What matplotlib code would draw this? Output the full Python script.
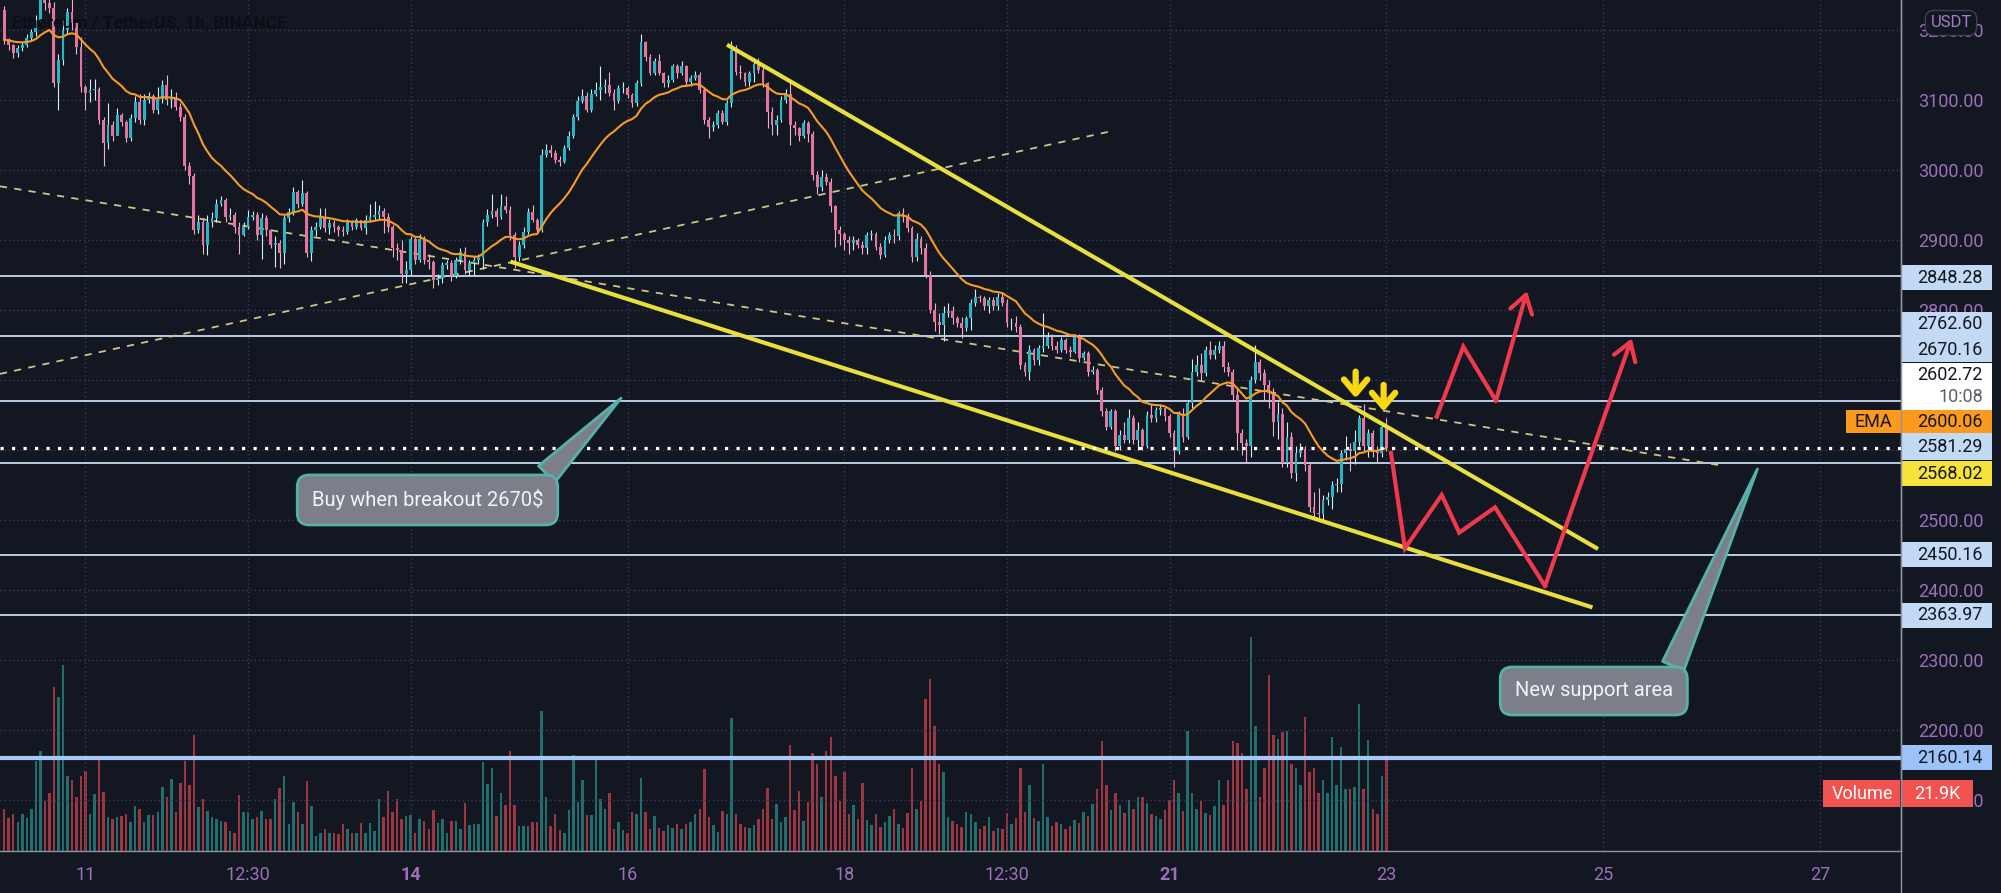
import matplotlib
matplotlib.use('Agg')
import matplotlib.pyplot as plt
import matplotlib.transforms as mtransforms
from matplotlib.patches import Rectangle
import numpy as np
import pandas as pd

plt.rcParams['font.family'] = ['Roboto', 'DejaVu Sans']

# ETH/USDT 1h candles, first candle = day 10, 06:00
first_open = 3229
closes = [
    3186, 3179, 3167, 3174, 3179, 3188, 3197, 3214, 3243, 3238,
    3232, 3124, 3157, 3200, 3226, 3210, 3176, 3119, 3110, 3114,
    3116, 3071, 3038, 3064, 3048, 3078, 3069, 3045, 3074, 3097,
    3071, 3100, 3105, 3086, 3102, 3121, 3100, 3103, 3090, 3076,
    3005, 2991, 2914, 2926, 2893, 2926, 2931, 2952, 2957, 2933,
    2935, 2919, 2907, 2919, 2933, 2936, 2907, 2931, 2914, 2893,
    2895, 2881, 2931, 2940, 2969, 2952, 2967, 2881, 2914, 2919,
    2933, 2917, 2924, 2919, 2914, 2912, 2926, 2919, 2928, 2917,
    2929, 2933, 2936, 2941, 2933, 2919, 2888, 2886, 2852, 2857,
    2902, 2871, 2902, 2871, 2869, 2843, 2845, 2864, 2867, 2848,
    2871, 2883, 2857, 2867, 2871, 2874, 2926, 2936, 2941, 2933,
    2948, 2943, 2907, 2876, 2893, 2912, 2940, 2929, 2914, 3021,
    3029, 3024, 3014, 3012, 3031, 3048, 3076, 3098, 3105, 3086,
    3109, 3114, 3119, 3121, 3110, 3098, 3117, 3117, 3107, 3095,
    3124, 3183, 3162, 3138, 3155, 3138, 3124, 3129, 3148, 3138,
    3148, 3126, 3131, 3136, 3114, 3071, 3062, 3064, 3081, 3069,
    3095, 3171, 3140, 3138, 3126, 3138, 3152, 3143, 3124, 3083,
    3064, 3071, 3100, 3109, 3064, 3060, 3048, 3067, 3052, 2993,
    2976, 2990, 2983, 2948, 2914, 2909, 2900, 2895, 2900, 2893,
    2888, 2907, 2909, 2890, 2879, 2900, 2907, 2905, 2938, 2933,
    2917, 2876, 2902, 2888, 2850, 2800, 2783, 2779, 2795, 2798,
    2788, 2781, 2774, 2788, 2810, 2819, 2817, 2805, 2814, 2805,
    2819, 2810, 2781, 2781, 2776, 2721, 2712, 2743, 2729, 2745,
    2748, 2762, 2748, 2743, 2757, 2743, 2740, 2762, 2731, 2738,
    2712, 2714, 2686, 2655, 2633, 2655, 2605, 2621, 2614, 2645,
    2614, 2629, 2605, 2650, 2645, 2657, 2660, 2648, 2624, 2598,
    2652, 2619, 2667, 2712, 2721, 2710, 2743, 2736, 2743, 2748,
    2719, 2712, 2679, 2624, 2610, 2605, 2700, 2726, 2710, 2693,
    2681, 2640, 2652, 2581, 2619, 2567, 2595, 2602, 2579, 2519,
    2510, 2509, 2529, 2533, 2550, 2552, 2595, 2602, 2598, 2612,
    2645, 2605, 2624, 2597, 2595, 2633, 2602.72,
]
highs = [
    3235, 3188, 3180, 3178, 3183, 3195, 3202, 3222, 3255, 3260,
    3250, 3240, 3165, 3215, 3232, 3245, 3205, 3190, 3122, 3130,
    3130, 3118, 3075, 3095, 3070, 3088, 3082, 3072, 3080, 3105,
    3108, 3108, 3112, 3108, 3118, 3128, 3135, 3115, 3112, 3095,
    3080, 3012, 2995, 2935, 2932, 2935, 2940, 2958, 2963, 2960,
    2945, 2940, 2925, 2925, 2943, 2942, 2940, 2938, 2936, 2915,
    2905, 2900, 2935, 2945, 2975, 2972, 2985, 2970, 2920, 2925,
    2945, 2945, 2930, 2928, 2922, 2920, 2930, 2929, 2932, 2929,
    2935, 2952, 2955, 2950, 2945, 2938, 2922, 2895, 2900, 2870,
    2905, 2905, 2908, 2905, 2880, 2872, 2852, 2868, 2872, 2872,
    2875, 2888, 2890, 2872, 2877, 2880, 2930, 2944, 2965, 2945,
    2965, 2963, 2948, 2912, 2898, 2918, 2945, 2950, 2932, 3030,
    3037, 3035, 3028, 3020, 3036, 3055, 3080, 3105, 3115, 3112,
    3115, 3125, 3148, 3130, 3140, 3115, 3122, 3125, 3120, 3110,
    3128, 3195, 3185, 3165, 3160, 3165, 3140, 3135, 3152, 3152,
    3156, 3150, 3136, 3142, 3140, 3118, 3075, 3070, 3085, 3085,
    3100, 3185, 3178, 3150, 3140, 3142, 3160, 3160, 3148, 3125,
    3090, 3078, 3105, 3115, 3125, 3070, 3062, 3072, 3070, 3055,
    2998, 3000, 2995, 2988, 2950, 2920, 2912, 2905, 2905, 2903,
    2898, 2912, 2914, 2912, 2895, 2905, 2912, 2915, 2942, 2945,
    2938, 2920, 2910, 2905, 2895, 2855, 2810, 2795, 2805, 2810,
    2805, 2792, 2790, 2792, 2815, 2830, 2822, 2820, 2818, 2818,
    2824, 2825, 2815, 2788, 2792, 2780, 2725, 2750, 2745, 2750,
    2795, 2768, 2765, 2755, 2762, 2760, 2748, 2766, 2765, 2742,
    2742, 2720, 2717, 2690, 2660, 2658, 2658, 2628, 2640, 2658,
    2650, 2640, 2632, 2655, 2665, 2662, 2665, 2662, 2652, 2628,
    2655, 2660, 2672, 2730, 2735, 2738, 2748, 2755, 2750, 2756,
    2756, 2725, 2715, 2690, 2630, 2615, 2706, 2750, 2730, 2715,
    2700, 2688, 2668, 2660, 2640, 2625, 2605, 2610, 2605, 2583,
    2540, 2545, 2535, 2540, 2555, 2560, 2600, 2620, 2610, 2628,
    2650, 2665, 2630, 2628, 2605, 2638, 2645,
]
lows = [
    3180, 3172, 3160, 3162, 3170, 3176, 3185, 3192, 3212, 3228,
    3225, 3118, 3085, 3150, 3195, 3200, 3165, 3112, 3085, 3097,
    3100, 3065, 3005, 3030, 3042, 3053, 3063, 3040, 3042, 3068,
    3065, 3064, 3096, 3082, 3080, 3095, 3093, 3088, 3086, 3070,
    3000, 2980, 2908, 2910, 2880, 2878, 2918, 2925, 2948, 2925,
    2928, 2910, 2880, 2905, 2915, 2928, 2900, 2873, 2905, 2888,
    2862, 2860, 2866, 2925, 2935, 2945, 2948, 2875, 2870, 2905,
    2915, 2912, 2908, 2912, 2905, 2905, 2908, 2914, 2915, 2914,
    2908, 2925, 2928, 2930, 2910, 2912, 2875, 2872, 2838, 2838,
    2850, 2865, 2868, 2865, 2858, 2832, 2836, 2838, 2858, 2842,
    2845, 2865, 2852, 2850, 2850, 2866, 2858, 2920, 2932, 2920,
    2930, 2938, 2900, 2860, 2870, 2888, 2908, 2925, 2910, 2912,
    3018, 3018, 3010, 3005, 3010, 3028, 3045, 3072, 3095, 3083,
    3083, 3105, 3100, 3110, 3105, 3085, 3095, 3110, 3103, 3090,
    3092, 3120, 3155, 3135, 3135, 3135, 3118, 3118, 3125, 3132,
    3135, 3120, 3120, 3128, 3110, 3065, 3045, 3055, 3060, 3065,
    3064, 3090, 3136, 3130, 3120, 3120, 3125, 3138, 3118, 3060,
    3050, 3050, 3068, 3095, 3035, 3050, 3042, 3045, 3040, 2985,
    2965, 2970, 2978, 2940, 2890, 2893, 2885, 2880, 2885, 2888,
    2880, 2880, 2900, 2885, 2873, 2875, 2895, 2895, 2900, 2925,
    2912, 2868, 2870, 2880, 2845, 2795, 2770, 2765, 2755, 2790,
    2780, 2775, 2760, 2770, 2772, 2805, 2812, 2800, 2795, 2800,
    2800, 2805, 2775, 2772, 2768, 2715, 2705, 2700, 2722, 2722,
    2740, 2745, 2743, 2738, 2740, 2738, 2733, 2738, 2725, 2728,
    2705, 2708, 2680, 2648, 2628, 2630, 2598, 2600, 2610, 2610,
    2608, 2600, 2600, 2603, 2640, 2640, 2650, 2642, 2618, 2576,
    2594, 2612, 2615, 2660, 2705, 2700, 2705, 2730, 2730, 2738,
    2712, 2705, 2670, 2600, 2593, 2582, 2590, 2695, 2700, 2670,
    2660, 2620, 2615, 2575, 2575, 2560, 2555, 2590, 2570, 2512,
    2502, 2500, 2500, 2522, 2515, 2540, 2540, 2585, 2570, 2580,
    2605, 2598, 2590, 2590, 2582, 2590, 2598,
]
volumes_k = [
    10, 8, 9, 7, 9, 8, 10, 21.7, 24, 12,
    14, 39.5, 37, 44.7, 18, 17, 13, 18, 19.3, 9,
    13.7, 22.2, 14.1, 8.1, 7.7, 8.1, 8.5, 8.9, 6.9, 10.9,
    10.1, 6.9, 8.6, 8.6, 9.3, 15.3, 12.9, 17.3, 9.3, 16.5,
    21.8, 16, 28, 10.5, 12.5, 9.7, 8.1, 7.7, 7.3, 6.9,
    4.8, 4.4, 13.5, 9.3, 9.3, 7.7, 8.1, 9.7, 7.7, 7.7,
    12.5, 15.2, 18.1, 6.5, 11.7, 9.3, 6.5, 16.9, 10.9, 3.6,
    4.4, 5.2, 4.4, 4.4, 4.0, 6.5, 5.2, 4.4, 4.4, 6.7,
    4.4, 6.7, 4.8, 12.5, 8.1, 14.5, 9.3, 12.5, 7.7, 8.5,
    8.6, 4.4, 7.7, 7.3, 5.2, 9.9, 6.7, 7.7, 4.4, 7.3,
    7.3, 5.2, 11.5, 6.2, 6.5, 6.5, 21.4, 16.1, 20, 8.5,
    14, 11, 24, 11, 6, 6, 6, 7, 7, 33.7,
    13, 6, 9, 5, 4.4, 9.9, 23.1, 11.7, 17, 8.6,
    8.6, 22, 12.5, 10, 13.9, 5.2, 6.9, 5, 4.4, 9.3,
    9, 17.7, 9.3, 5.2, 8.5, 5.5, 4.8, 6.2, 5.6, 6.5,
    5.2, 6.5, 7.0, 9.0, 10, 19.7, 8.3, 6.2, 4.6, 9.6,
    8.8, 32, 8.9, 6.4, 5.9, 5.5, 6.3, 7.7, 10, 15.1,
    7.6, 11.4, 6.9, 8.2, 25.6, 9.8, 14.4, 7.3, 11.7, 23.7,
    21, 13, 24, 27.4, 18, 12, 19, 9, 11, 7.6,
    16.5, 7.5, 6.3, 8.8, 5.9, 6.9, 8.5, 10, 6.4, 5.6,
    9.1, 20, 10, 12, 36.6, 41.5, 30, 21, 19, 8.1,
    7.3, 6.4, 5.9, 9.5, 8.8, 7.0, 5.4, 6.0, 8.3, 4.9,
    5.6, 5.2, 9.2, 6.6, 8.0, 20, 9.3, 16, 8.0, 7.2,
    21, 8.3, 6.0, 7.1, 6.5, 5.2, 6.1, 7.4, 6.7, 9.4,
    8.5, 11.4, 15, 26.6, 16, 9.9, 14, 11.2, 9.1, 12.4,
    10.1, 13.0, 13.0, 11.5, 9.0, 8.5, 7.6, 9.8, 12.4, 17,
    14, 9.6, 28.8, 14, 10, 12, 9.2, 8.7, 10.8, 17,
    11, 17, 26.6, 26, 23.7, 15, 51.5, 30, 13, 20,
    42.3, 28, 27, 28.6, 29, 21, 20, 16, 32.4, 19,
    20, 14, 17, 14, 27.5, 16, 25, 15, 15, 15.5,
    35.4, 15, 26.8, 10, 9, 18, 21.9,
]

# horizontal levels drawn on the chart
levels = [2848.28, 2762.60, 2670.16, 2581.29, 2450.16, 2363.97]
support = 2160.14
last_price = 2602.72
ema_last = 2600.06
channel_price = 2568.02
last_volume = '21.9K'

# drawings (day, price)
upper_trend = ([16.918, 24.953], [3179, 2458.6])
lower_trend = ([14.92, 24.902], [2869.1, 2375.1])
dash_down = ([10.211, 26.102], [2976.7, 2577.6])
dash_up = ([10.211, 20.453], [2708.7, 3055.1])
path_up = ([23.465, 23.710, 24.012, 24.298], [2647.6, 2747.6, 2670.4, 2827.1])
path_down = ([23.043, 23.172, 23.511, 23.673, 24.003, 24.464, 25.264],
             [2595.7, 2459.6, 2535.7, 2481.9, 2518.1, 2405.7, 2759.6])
down_arrows = [(22.717, 2712, 2674), (22.975, 2693, 2655)]

day_ticks = [11, 12.5, 14, 16, 18, 19.5, 21, 23, 25, 27]
day_labels = ['11', '12:30', '14', '16', '18', '12:30', '21', '23', '25', '27']
price_ticks = np.arange(2100, 3300, 100)

bg = '#131722'
grid_c = '#363a5e'
txt_c = '#9c70b8'
up_c, dn_c = '#26b7c4', '#e4759e'

n = len(closes)
t = 10.25 + np.arange(n) / 24
c = np.array(closes, dtype=float)
o = np.concatenate([[first_open], c[:-1]])
h = np.array(highs, dtype=float)
lo = np.array(lows, dtype=float)
up = c >= o

fig = plt.figure(figsize=(20.01, 8.93), dpi=100, facecolor=bg)
rect = [0, 42 / 893, 1901 / 2001, 851 / 893]
xlim = (10.2113, 27.748)

# volume pane
axv = fig.add_axes(rect)
axv.bar(t, volumes_k, width=0.55 / 24, color=np.where(up, '#206f6c', '#9c3640'))
axv.set_xlim(xlim)
axv.set_ylim(0, 205)
axv.axis('off')

ax = fig.add_axes(rect)
ax.set_facecolor('none')
ax.set_xlim(xlim)
ax.set_ylim(2027.1, 3242.86)

ax.set_xticks(day_ticks)
ax.set_xticklabels(day_labels)
ax.set_yticks(price_ticks)
# 2600 / 2700 sit fully under the price tags, like in the original
ax.set_yticklabels(['' if p in (2600, 2700) else f'{p:.2f}' for p in price_ticks])
ax.yaxis.tick_right()
ax.tick_params(axis='y', length=0, pad=12, labelsize=13, labelcolor=txt_c)
ax.tick_params(axis='x', length=0, pad=11, labelsize=13, labelcolor=txt_c)
for lab in ax.get_xticklabels():
    if lab.get_text() in ('14', '21'):
        lab.set_fontweight('bold')
ax.grid(True, color=grid_c, ls=(0, (1, 2)), lw=1)
for s in ('top', 'left'):
    ax.spines[s].set_visible(False)
for s in ('right', 'bottom'):
    ax.spines[s].set_color('#8f93a6')
    ax.spines[s].set_linewidth(1)
fig.add_artist(plt.Line2D([1901 / 2001] * 2, [0, 1], color='#8f93a6', lw=1))

# levels
for lv in levels:
    ax.axhline(lv, color='#c6daf2', lw=1.3, zorder=2)
ax.axhline(support, color='#a9c8f5', lw=3, zorder=2)

# dashed trend lines
ax.plot(*dash_down, color='#cbc58a', lw=1.3, ls=(0, (4, 4)), zorder=2)
ax.plot(*dash_up, color='#cbc58a', lw=1.3, ls=(0, (4, 4)), zorder=2)

# candles
ax.vlines(t, lo, h, colors=np.where(up, '#cfeff2', '#efb0c6'), lw=0.8, zorder=3)
ax.bar(t, np.maximum(np.abs(c - o), 0.9), bottom=np.minimum(o, c), width=0.62 / 24,
       color=np.where(up, up_c, dn_c), zorder=4)

ema = pd.Series(c).ewm(span=20, adjust=False).mean()
ax.plot(t, ema, color='#f59b26', lw=1.5, zorder=5)

ax.plot(*upper_trend, color='#e9df3c', lw=3, zorder=6, solid_capstyle='butt')
ax.plot(*lower_trend, color='#e9df3c', lw=3, zorder=6, solid_capstyle='butt')

ax.axhline(last_price, color='white', lw=2.3, ls=(0, (1, 2.6)), zorder=6)

# red projection paths
red = '#f0394c'
for px, py in (path_up, path_down):
    ax.plot(px[:-1], py[:-1], color=red, lw=3, zorder=7, solid_joinstyle='miter')
    ax.annotate('', xy=(px[-1], py[-1]), xytext=(px[-2], py[-2]), zorder=7,
                arrowprops=dict(arrowstyle='->,head_length=0.7,head_width=0.45',
                                color=red, lw=3, mutation_scale=18,
                                shrinkA=0, shrinkB=0))

for x, y0, y1 in down_arrows:
    ax.annotate('', xy=(x, y1), xytext=(x, y0), zorder=8,
                arrowprops=dict(arrowstyle='->,head_length=0.5,head_width=0.42',
                                color='#f7d812', lw=4.5, mutation_scale=20,
                                shrinkA=0, shrinkB=0))

# callouts
box_fc, box_ec = '#7c7f89', '#55b2ab'
callout_box = dict(boxstyle='round,pad=0.72,rounding_size=0.6', fc=box_fc, ec=box_ec, lw=2)
ax.annotate('Buy when breakout 2670$', xy=(15.94, 2674), xytext=(14.155, 2528.6),
            ha='center', va='center', fontsize=14.5, color='#f2f3f7', zorder=9,
            bbox=callout_box,
            arrowprops=dict(arrowstyle='wedge,tail_width=1.15,shrink_factor=0.5',
                            fc=box_fc, ec=box_ec, lw=2, relpos=(0.95, 1.0),
                            shrinkA=0, shrinkB=0))
ax.annotate('New support area', xy=(26.424, 2572.9), xytext=(24.914, 2255.7),
            ha='center', va='center', fontsize=14.5, color='#f2f3f7', zorder=9,
            bbox=callout_box,
            arrowprops=dict(arrowstyle='wedge,tail_width=1.15,shrink_factor=0.5',
                            fc=box_fc, ec=box_ec, lw=2, relpos=(0.96, 1.0),
                            shrinkA=0, shrinkB=0))

# title
ax.text(0.0063, 0.972, 'Ethereum / TetherUS, 1h, BINANCE', transform=ax.transAxes,
        fontsize=12.5, fontweight='bold', color='#0c0e15', va='center', zorder=10)

# right-hand price tags
tr = mtransforms.blended_transform_factory(ax.transAxes, ax.transData)
ppx = 1 / 0.7  # price units per pixel
bw = 91 / 1901
tx = 1 + 82 / 1901


def tag(y, text, fc, tc='#131722', hpx=25, x0=1.0, w=bw, xt=tx, ha='right'):
    ax.add_patch(Rectangle((x0, y - hpx / 2 * ppx), w, hpx * ppx, transform=tr,
                           fc=fc, ec='none', clip_on=False, zorder=20))
    ax.text(xt, y, text, transform=tr, ha=ha, va='center', fontsize=13, color=tc,
            clip_on=False, zorder=21)


light = '#c3daf4'
tag(2846.4, f'{levels[0]:.2f}', light)
tag(2779.3, f'{levels[1]:.2f}', light)
tag(2742.9, f'{levels[2]:.2f}', light)
ax.add_patch(Rectangle((1.0, 2690.7 - 23.5 * ppx), bw, 47 * ppx, transform=tr,
                       fc='white', ec='none', clip_on=False, zorder=20))
ax.text(tx, 2707.1, f'{last_price:.2f}', transform=tr, ha='right', va='center',
        fontsize=13, color='#131722', clip_on=False, zorder=21)
ax.text(tx, 2676.0, '10:08', transform=tr, ha='right', va='center',
        fontsize=13, color='#5d606b', clip_on=False, zorder=21)
tag(2640.4, f'{ema_last:.2f}', '#fb9a1c', hpx=23)
tag(2640.4, 'EMA', '#fb9a1c', hpx=23, x0=1 - 55 / 1901, w=55 / 1901,
    xt=1 - 27.5 / 1901, ha='center')
tag(2604.7, f'{levels[3]:.2f}', light, hpx=27)
tag(2565.7, f'{channel_price:.2f}', '#f5e23a')
tag(levels[4], f'{levels[4]:.2f}', light)
tag(levels[5], f'{levels[5]:.2f}', light)
tag(support, f'{support:.2f}', '#9cc2f7')
tag(2108.6, last_volume, '#f05350', tc='white', hpx=27, x0=1 + 0.7 / 1901,
    w=71 / 1901, xt=1 + 36 / 1901, ha='center')
tag(2108.6, 'Volume', '#f05350', tc='white', hpx=27, x0=1 - 78 / 1901,
    w=77.3 / 1901, xt=1 - 39 / 1901, ha='center')

ax.text(1 + 50 / 1901, 0.973, 'USDT', transform=ax.transAxes, ha='center', va='center',
        fontsize=12, color='#a77cc4', zorder=22, clip_on=False,
        bbox=dict(boxstyle='round,pad=0.3,rounding_size=0.5', fc=bg, ec='#3d4150', lw=1))

fig.savefig('out.png', dpi=100, facecolor=bg)
